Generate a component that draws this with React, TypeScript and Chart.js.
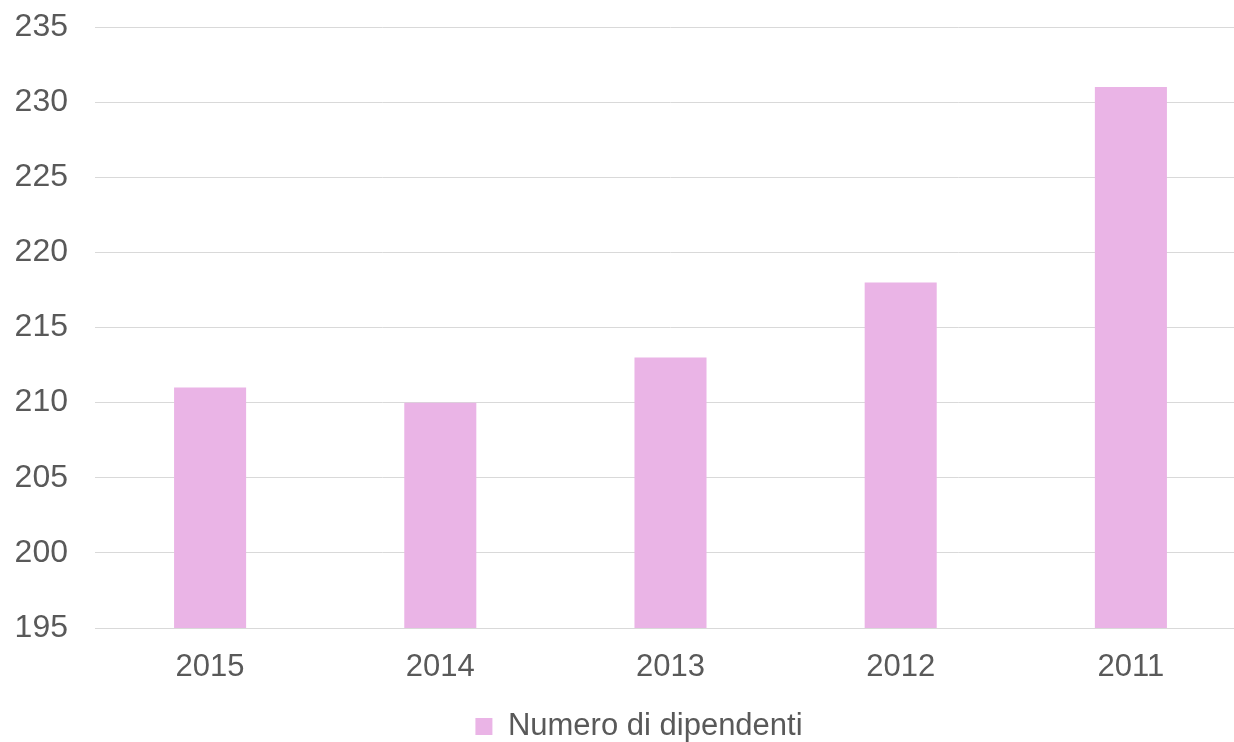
import React, { useEffect, useRef } from "react";
import { Chart, registerables } from "chart.js";

Chart.register(...registerables);

const categories = ["2015", "2014", "2013", "2012", "2011"];
const dipendenti = [211, 210, 213, 218, 231];
const seriesLabel = "Numero di dipendenti";
const yMin = 195;
const yMax = 235;
const yStep = 5;

const FONT = "'Liberation Sans', Arial, sans-serif";
const TEXT = "#595959";

const legendShift = {
  id: "legendShift",
  afterLayout(chart: any) {
    const lg = chart.legend;
    if (lg) {
      lg.left += 16;
      lg.right += 16;
    }
  },
};

export default function App() {
  const ref = useRef<HTMLCanvasElement | null>(null);

  useEffect(() => {
    document.body.style.margin = "0";
    document.body.style.overflow = "hidden";
    if (!ref.current) return;
    const chart = new Chart(ref.current, {
      type: "bar",
      data: {
        labels: categories,
        datasets: [
          {
            label: seriesLabel,
            data: dipendenti,
            backgroundColor: "#EAB4E6",
            borderWidth: 0,
            barPercentage: 0.313,
            categoryPercentage: 1,
          },
        ],
      },
      plugins: [legendShift],
      options: {
        animation: false,
        responsive: true,
        maintainAspectRatio: false,
        layout: { padding: { top: 0, left: 0, right: 0, bottom: -10 } },
        plugins: {
          legend: {
            position: "bottom",
            labels: {
              font: { family: FONT, size: 31 },
              color: TEXT,
              boxWidth: 17,
              boxHeight: 17,
              padding: 10,
            },
          },
          tooltip: { enabled: false },
        },
        scales: {
          x: {
            grid: { display: false, drawTicks: false },
            border: { display: true, color: "#D9D9D9", width: 1 },
            ticks: {
              font: { family: FONT, size: 31 },
              color: TEXT,
              padding: 21,
            },
            afterFit: (s: any) => {
              s.height = 73;
            },
          },
          y: {
            min: yMin,
            max: yMax,
            grid: { color: "#D9D9D9", drawTicks: false },
            border: { display: false },
            ticks: {
              stepSize: yStep,
              font: { family: FONT, size: 32 },
              color: TEXT,
              padding: 27,
            },
            afterFit: (s: any) => {
              s.width = 95;
              s.paddingTop = 27;
              s.paddingBottom = 0;
            },
          },
        },
      },
    });
    return () => chart.destroy();
  }, []);

  return (
    <div style={{ position: "absolute", left: 0, top: 0, width: 1246, height: 742 }}>
      <canvas ref={ref} />
    </div>
  );
}
